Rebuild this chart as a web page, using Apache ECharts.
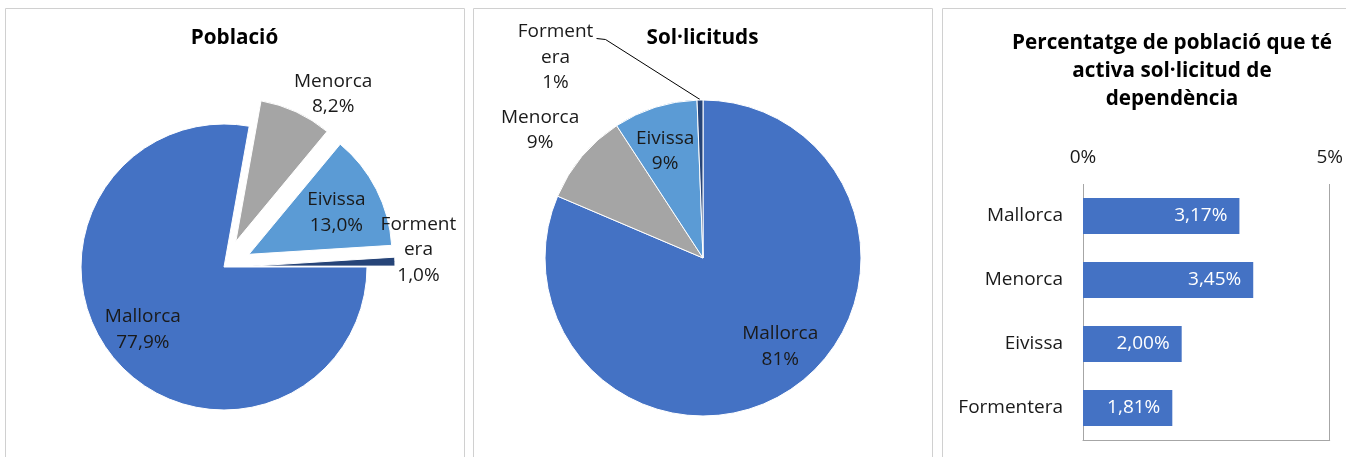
<!DOCTYPE html>
<html><head><meta charset="utf-8">
<script src="https://cdn.jsdelivr.net/npm/echarts@6/dist/echarts.min.js"></script>
<style>html,body{margin:0;padding:0;background:#fff}#c{width:1346px;height:457px}</style>
</head><body><div id="c"></div>
<script>
// ---- data ----
const islands = ['Mallorca', 'Menorca', 'Eivissa', 'Formentera'];
const populationShare = [77.9, 8.2, 13.0, 1.0];      // % of population
const requestsShare = [81.4, 9.4, 8.6, 0.6];         // share of requests (labels rounded)
const activeRate = [3.17, 3.45, 2.00, 1.81];         // % population with active request
const rateTicks = [0, 5];
const chartTitles = ['Població', 'Sol·licituds', 'Percentatge de població que té\nactiva sol·licitud de\ndependència'];
const explodedIslands = ['Menorca', 'Eivissa', 'Formentera'];

// ---- styles ----
const FONT = "'Open Sans', 'Noto Sans', sans-serif";
const TXT = '#1a1a1a';
const colors = ['#4472C4', '#A5A5A5', '#5B9BD5', '#264478'];
const comma = (v, d) => v.toFixed(d).replace('.', ',');
const LBL = 19, TTL = 20.7;

const pie1Offsets = [[-24, 15], [66, -80], [21, -8], [92, -14]];
const pie2Offsets = [[32, 20], [-100, -75], [-13, -29], null];

const labelBase = { show: true, position: 'inside', color: TXT, fontFamily: FONT, fontSize: LBL, lineHeight: 25.5, textBorderWidth: 0 };
const titleStyle = { fontFamily: FONT, fontSize: TTL, fontWeight: 'bold', color: '#000', lineHeight: 28 };

const pie1Data = islands.map((n, i) => ({
  name: n, value: populationShare[i], selected: explodedIslands.includes(n),
  itemStyle: { color: colors[i] },
  label: n === 'Formentera' ? { width: 80, overflow: 'breakAll' } : {}
}));
const pie2Data = islands.map((n, i) => ({
  name: n, value: requestsShare[i],
  itemStyle: { color: colors[i] },
  label: n === 'Formentera' ? { position: 'outside', width: 80, overflow: 'breakAll' } : {},
  labelLine: n === 'Formentera' ? { show: true } : { show: false }
}));

const chart = echarts.init(document.getElementById('c'), null, { renderer: 'canvas' });
chart.setOption({
  animation: false,
  textStyle: { fontFamily: FONT },
  title: [
    { text: chartTitles[0], left: 234.5, top: 24, textAlign: 'center', padding: 0, textStyle: titleStyle },
    { text: chartTitles[1], left: 702.5, top: 24, textAlign: 'center', padding: 0, textStyle: titleStyle },
    { text: chartTitles[2], left: 1172, top: 29, textAlign: 'center', padding: 0, textStyle: titleStyle }
  ],
  graphic: [
    { type: 'rect', shape: { x: 5.5, y: 8.5, width: 459, height: 520 }, style: { fill: 'none', stroke: '#D0D0D0', lineWidth: 1 }, silent: true },
    { type: 'rect', shape: { x: 473.5, y: 8.5, width: 459, height: 520 }, style: { fill: 'none', stroke: '#D0D0D0', lineWidth: 1 }, silent: true },
    { type: 'rect', shape: { x: 942.5, y: 8.5, width: 460, height: 520 }, style: { fill: 'none', stroke: '#D0D0D0', lineWidth: 1 }, silent: true }
  ],
  grid: { left: 1083, right: 16, top: 184, bottom: 17 },
  xAxis: [
    { type: 'value', position: 'top', min: rateTicks[0], max: rateTicks[1], interval: rateTicks[1] - rateTicks[0],
      axisLabel: { formatter: '{value}%', fontSize: LBL, color: TXT, fontFamily: FONT, margin: 17 },
      axisLine: { show: false }, axisTick: { show: false },
      splitLine: { show: true, lineStyle: { color: '#A6A6A6', width: 1 } } },
    { type: 'value', position: 'bottom', min: rateTicks[0], max: rateTicks[1],
      axisLabel: { show: false }, axisTick: { show: false }, splitLine: { show: false },
      axisLine: { show: true, lineStyle: { color: '#A6A6A6', width: 1 } } }
  ],
  yAxis: {
    type: 'category', data: islands, inverse: true,
    axisLine: { show: false }, axisTick: { show: false },
    axisLabel: { fontSize: LBL, color: TXT, fontFamily: FONT, margin: 20 }
  },
  series: [
    {
      type: 'pie', center: [224, 267], radius: 143, startAngle: 0, clockwise: true,
      selectedMode: 'multiple', selectedOffset: 28, avoidLabelOverlap: false,
      itemStyle: { borderColor: '#fff', borderWidth: 1 },
      emphasis: { disabled: true },
      label: Object.assign({}, labelBase, { formatter: p => p.name + '\n' + comma(p.value, 1) + '%' }),
      labelLine: { show: false },
      labelLayout: p => ({ dx: pie1Offsets[p.dataIndex][0], dy: pie1Offsets[p.dataIndex][1] }),
      data: pie1Data
    },
    {
      type: 'pie', center: [703, 258], radius: 158, startAngle: 90, clockwise: true,
      avoidLabelOverlap: false,
      itemStyle: { borderColor: '#fff', borderWidth: 1 },
      emphasis: { disabled: true },
      label: Object.assign({}, labelBase, { formatter: p => p.name + '\n' + Math.round(p.percent) + '%' }),
      labelLine: { length: 20, length2: 10, lineStyle: { color: '#000', width: 1 } },
      labelLayout: p => {
        const o = pie2Offsets[p.dataIndex];
        if (o) return { dx: o[0], dy: o[1] };
        const r = p.rect;
        const lx = r.x - 141, ly = r.y - 42;
        const ax = lx + 41, ay = ly - 19;
        return {
          x: lx, y: ly, align: 'center', verticalAlign: 'middle',
          labelLinePoints: [[r.x + r.width / 2, r.y], [ax + 9, ay + 1], [ax, ay]]
        };
      },
      data: pie2Data
    },
    {
      type: 'bar', xAxisIndex: 0, yAxisIndex: 0, data: activeRate, barWidth: 36,
      itemStyle: { color: '#4472C4' },
      emphasis: { disabled: true },
      label: { show: true, position: 'insideRight', distance: 12, color: '#fff', fontSize: LBL, fontFamily: FONT,
        formatter: p => comma(p.value, 2) + '%' }
    }
  ]
});
</script></body></html>
